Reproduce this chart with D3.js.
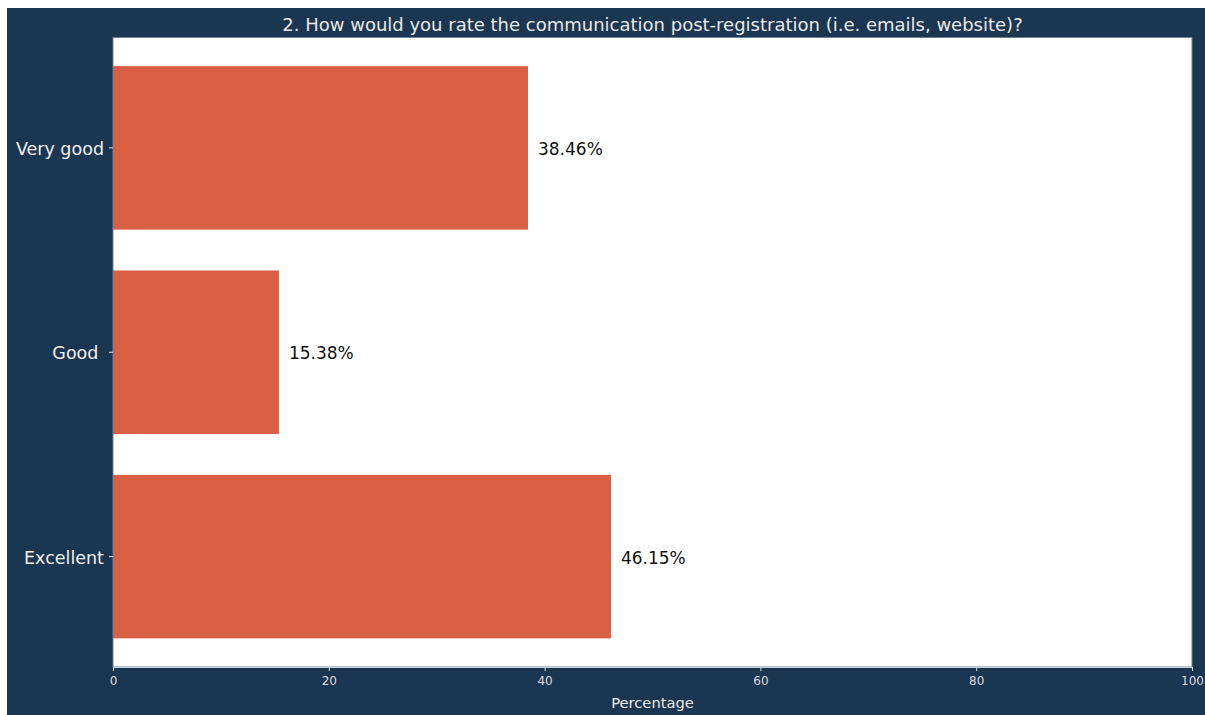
<!DOCTYPE html>
<html>
<head>
<meta charset="utf-8">
<script src="https://cdn.jsdelivr.net/npm/d3@7"></script>
<style>
  body { margin: 0; background: #ffffff; }
  text { font-family: 'DejaVu Sans', sans-serif; white-space: pre; }
</style>
</head>
<body>
<script>
// answers, top to bottom (the source label for "Good" carries a trailing space)
const categories = ['Very good', 'Good ', 'Excellent']
const percentages = [38.46, 15.38, 46.15]
const xTicks = [0, 20, 40, 60, 80, 100]

const title = '2. How would you rate the communication post-registration (i.e. emails, website)?'

const W = 1205, H = 715
const margin = {top: 37.5, right: 13, bottom: 48, left: 113}
const width = 1192 - margin.left
const height = 667 - margin.top

let svg = d3.select('body').append('svg')
    .attr('width', W)
    .attr('height', H)

svg.append('rect')
    .attr('x', 7).attr('y', 8)
    .attr('width', W - 7).attr('height', H - 8)
    .attr('fill', '#1a3650')

svg.append('text')
    .attr('x', margin.left + width / 2)
    .attr('y', 31)
    .attr('text-anchor', 'middle')
    .attr('fill', '#e8e8e8')
    .style('font-size', '18px')
    .text(title)

let g = svg.append('g')
    .attr('transform', 'translate(' + margin.left + ',' + margin.top + ')')

g.append('rect')
    .attr('width', width)
    .attr('height', height)
    .attr('fill', '#ffffff')

let x = d3.scaleLinear().domain([0, 100]).range([0, width])

// matplotlib style: bar height 0.8, 5% margins
let step = height / 3.08

let y = d3.scaleBand().domain(categories).range([0.14 * step, height - 0.14 * step]).paddingInner(0.2).paddingOuter(0)

g.selectAll('rect.bar')
    .data(percentages)
    .join('rect')
    .attr('class', 'bar')
    .attr('x', 0)
    .attr('y', (d, i) => y(categories[i]))
    .attr('width', d => x(d))
    .attr('height', y.bandwidth())
    .attr('fill', '#d96045')

g.selectAll('text.val')
    .data(percentages)
    .join('text')
    .attr('class', 'val')
    .attr('x', d => x(d) + 10)
    .attr('y', (d, i) => y(categories[i]) + y.bandwidth() / 2 + 1)
    .attr('dy', '0.35em')
    .attr('fill', '#111111')
    .style('font-size', '17px')
    .text(d => d.toFixed(2) + '%')

// spines
g.append('rect')
    .attr('width', width)
    .attr('height', height)
    .attr('fill', 'none')
    .attr('stroke', '#6c8094')
    .attr('stroke-width', 1)

let xAxis = g.append('g')
    .attr('transform', 'translate(0,' + height + ')')
    .call(d3.axisBottom(x).tickValues(xTicks).tickSize(4).tickPadding(5))
xAxis.select('.domain').attr('stroke', '#c8d0d8')
xAxis.selectAll('.tick line').attr('stroke', '#d8dde2')
xAxis.selectAll('.tick text')
    .attr('fill', '#d8dde2')
    .style('font-size', '12px')
    .style('font-family', "'DejaVu Sans', sans-serif")

let yAxis = g.append('g')
    .call(d3.axisLeft(y).tickSize(4).tickPadding(5))
yAxis.select('.domain').remove()
yAxis.selectAll('.tick line').attr('stroke', '#e0e4e8')
yAxis.selectAll('.tick text')
    .attr('fill', '#f0f0f0')
    .attr('y', 1.5)
    .style('font-size', '17.5px')
    .style('font-family', "'DejaVu Sans', sans-serif")

g.append('text')
    .attr('x', width / 2)
    .attr('y', height + 41)
    .attr('text-anchor', 'middle')
    .attr('fill', '#e8e8e8')
    .style('font-size', '14.7px')
    .text('Percentage')
</script>
</body>
</html>
